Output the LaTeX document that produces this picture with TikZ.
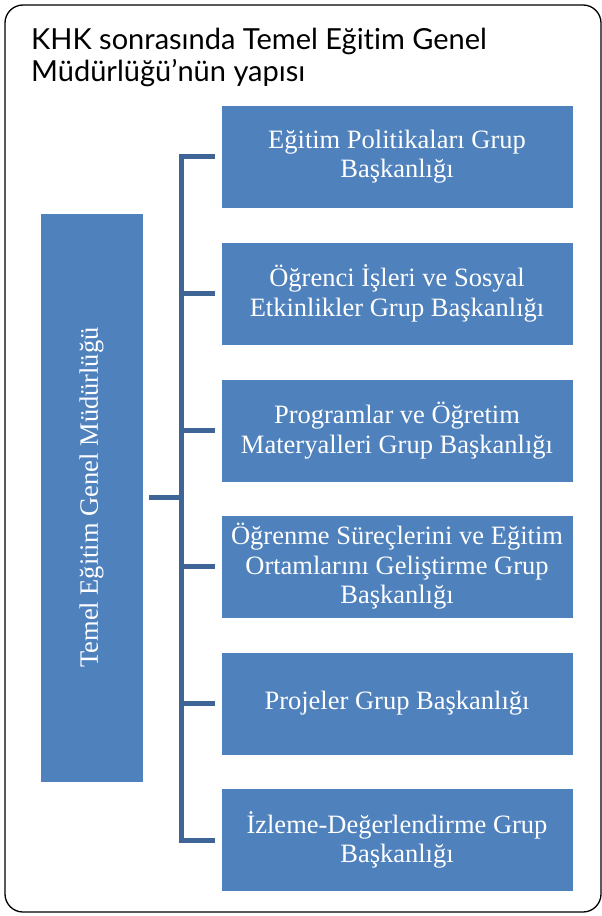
\documentclass[tikz,border=0pt]{standalone}
\usepackage{fontspec}
\setmainfont{Liberation Serif}
\newfontfamily\titlefont[Ligatures=NoCommon]{Lato}
\definecolor{boxblue}{RGB}{79,129,189}
\definecolor{connblue}{RGB}{62,101,150}
\begin{document}
\begin{tikzpicture}[x=1pt,y=-1pt,
  box/.style={fill=boxblue, draw=white, line width=0.8pt, text=white, align=center,
    minimum width=352pt, minimum height=103pt, inner sep=0pt,
    font=\fontsize{26.5}{29.5}\selectfont},
  conn/.style={draw=connblue, line width=5pt, line join=miter}]
\useasboundingbox (0,0) rectangle (602,916);
\draw[black, line width=1.3pt, rounded corners=18pt] (5,5) rectangle (601,912);
\node[anchor=north west, align=left, inner sep=0pt, font=\titlefont\fontsize{29}{32}\selectfont] (title) at (31,28)
  {KHK sonrasında Temel Eğitim Genel\\Müdürlüğü’nün yapısı};
\node[box, minimum width=103pt, minimum height=569pt] (m) at (91.5,497.5)
  {\rotatebox{90}{Temel Eğitim Genel Müdürlüğü}};
\node[box] (b1) at (397,156.5) {\raisebox{-2pt}{\parbox{352pt}{\centering Eğitim Politikaları Grup\\Başkanlığı}}};
\node[box] (b2) at (397,293.5) {\raisebox{-2pt}{\parbox{352pt}{\centering Öğrenci İşleri ve Sosyal\\Etkinlikler Grup Başkanlığı}}};
\node[box] (b3) at (397,430.5) {\raisebox{-2pt}{\parbox{352pt}{\centering Programlar ve Öğretim\\Materyalleri Grup Başkanlığı}}};
\node[box] (b4) at (397,566.5) {\raisebox{-2pt}{\parbox{352pt}{\centering Öğrenme Süreçlerini ve Eğitim\\Ortamlarını Geliştirme Grup\\Başkanlığı}}};
\node[box] (b5) at (397,703.5) {\raisebox{-2pt}{\parbox{352pt}{\centering Projeler Grup Başkanlığı}}};
\node[box] (b6) at (397,840) {\raisebox{-2pt}{\parbox{352pt}{\centering İzleme-Değerlendirme Grup\\Başkanlığı}}};
\coordinate (bus) at (181.5,497.5);
\draw[conn] ([xshift=-6pt]b1.west) -| (bus) |- ([xshift=-6pt]b6.west);
\draw[conn] ([xshift=6pt]m.east) -- (bus);
\foreach \i in {2,3,4,5} {
  \draw[conn] (bus |- b\i.west) -- ([xshift=-6pt]b\i.west);
}
\end{tikzpicture}
\end{document}
